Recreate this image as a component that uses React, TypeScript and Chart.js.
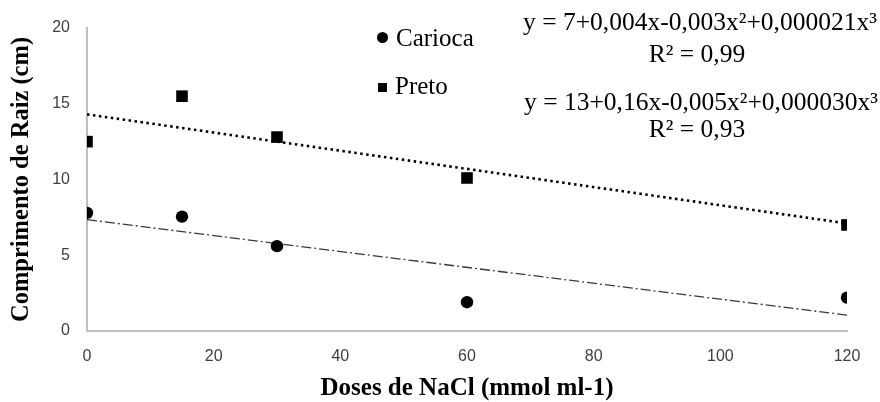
import React, { useEffect, useRef } from 'react';
import Chart from 'chart.js/auto';

// doses de NaCl (mmol ml-1)
const doses = [0, 15, 30, 60, 120];
const cariocaValues = [7.8, 7.55, 5.6, 1.9, 2.2];
const pretoValues = [12.5, 15.5, 12.8, 10.1, 7.0];

// linhas de tendência (pontos extremos)
const trendDoses = [0, 120];
const cariocaTrend = [7.35, 1.05];
const pretoTrend = [14.3, 7.1];

const xTickValues = [0, 20, 40, 60, 80, 100, 120];
const yTickValues = [0, 5, 10, 15, 20];

const cariocaEquation = 'y = 7+0,004x-0,003x²+0,000021x³';
const cariocaR2 = 'R² = 0,99';
const pretoEquation = 'y = 13+0,16x-0,005x²+0,000030x³';
const pretoR2 = 'R² = 0,93';

const serif = "'Liberation Serif', 'Times New Roman', serif";
const sans = "'Liberation Sans', Arial, sans-serif";

const toPoints = (xs: number[], ys: number[]) => xs.map((x, i) => ({ x, y: ys[i] }));

const RootLengthChart = () => {
  const chartRef = useRef<HTMLCanvasElement>(null);
  const chartInstance = useRef<Chart | null>(null);

  useEffect(() => {
    document.body.style.margin = '0';
    if (!chartRef.current) return;
    if (chartInstance.current) chartInstance.current.destroy();

    const ctx = chartRef.current.getContext('2d');
    if (!ctx) return;

    chartInstance.current = new Chart(ctx, {
      type: 'scatter',
      data: {
        datasets: [
          {
            label: 'Carioca',
            data: toPoints(doses, cariocaValues),
            pointStyle: 'circle',
            pointRadius: 6.2,
            backgroundColor: '#000',
            borderColor: '#000',
            borderWidth: 0,
            order: 0
          },
          {
            label: 'Preto',
            data: toPoints(doses, pretoValues),
            pointStyle: 'rect',
            pointRadius: 8.2,
            backgroundColor: '#000',
            borderColor: '#000',
            borderWidth: 0,
            order: 0
          },
          {
            label: 'Tendência Carioca',
            data: toPoints(trendDoses, cariocaTrend),
            showLine: true,
            pointRadius: 0,
            borderColor: '#3a3a3a',
            borderWidth: 1.3,
            borderDash: [10, 3, 2, 3],
            order: 1
          },
          {
            label: 'Tendência Preto',
            data: toPoints(trendDoses, pretoTrend),
            showLine: true,
            pointRadius: 0,
            borderColor: '#000',
            borderWidth: 2.6,
            borderDash: [2.5, 3.5],
            order: 1
          }
        ]
      },
      options: {
        animation: false,
        responsive: true,
        maintainAspectRatio: false,
        layout: { padding: { top: 28, right: 33, left: 0, bottom: 0 } },
        plugins: {
          legend: { display: false },
          tooltip: { enabled: false }
        },
        scales: {
          x: {
            type: 'linear',
            min: 0,
            max: 120,
            afterFit: (scale: any) => {
              scale.height = 71;
            },
            afterBuildTicks: (scale: any) => {
              scale.ticks = xTickValues.map((value) => ({ value }));
            },
            grid: { display: false, drawTicks: false },
            border: { display: true, color: '#bfbfbf', width: 2 },
            ticks: {
              padding: 16,
              color: '#404040',
              font: { family: sans, size: 16 }
            },
            title: {
              display: true,
              text: 'Doses de NaCl (mmol ml-1)',
              color: '#000',
              font: { family: serif, size: 25, weight: 'bold', lineHeight: 1 },
              padding: { top: 0, bottom: 1 }
            }
          },
          y: {
            type: 'linear',
            min: 0,
            max: 20,
            afterFit: (scale: any) => {
              scale.width = 87;
            },
            afterBuildTicks: (scale: any) => {
              scale.ticks = yTickValues.map((value) => ({ value }));
            },
            grid: { display: false, drawTicks: false },
            border: { display: true, color: '#bfbfbf', width: 2 },
            ticks: {
              padding: 17,
              color: '#404040',
              font: { family: sans, size: 16 }
            },
            title: {
              display: true,
              text: 'Comprimento de Raiz (cm)',
              color: '#000',
              font: { family: serif, size: 24.5, weight: 'bold', lineHeight: 1 },
              padding: { top: 9, bottom: 0 }
            }
          }
        }
      }
    });

    return () => {
      if (chartInstance.current) {
        chartInstance.current.destroy();
        chartInstance.current = null;
      }
    };
  }, []);

  const textStyle: React.CSSProperties = {
    position: 'absolute',
    fontFamily: serif,
    fontSize: 25,
    lineHeight: '25px',
    color: '#000',
    whiteSpace: 'nowrap'
  };
  const eqStyle: React.CSSProperties = { ...textStyle, fontSize: 25.5, left: 500, width: 400, textAlign: 'center' };

  return (
    <div style={{ position: 'relative', width: 880, height: 402, overflow: 'hidden', background: '#fff' }}>
      <canvas ref={chartRef}></canvas>

      {/* legenda */}
      <div style={{ position: 'absolute', left: 377, top: 32, width: 11, height: 11, borderRadius: '50%', background: '#000' }} />
      <div style={{ ...textStyle, left: 396, top: 25 }}>Carioca</div>
      <div style={{ position: 'absolute', left: 378, top: 83, width: 8.5, height: 8.5, background: '#000' }} />
      <div style={{ ...textStyle, left: 395, top: 73 }}>Preto</div>

      {/* equações */}
      <div style={{ ...eqStyle, top: 9 }}>{cariocaEquation}</div>
      <div style={{ ...eqStyle, width: 394, top: 41 }}>{cariocaR2}</div>
      <div style={{ ...eqStyle, width: 402, top: 89 }}>{pretoEquation}</div>
      <div style={{ ...eqStyle, width: 394, top: 116 }}>{pretoR2}</div>
    </div>
  );
};

export default function App() {
  return <RootLengthChart />;
}
